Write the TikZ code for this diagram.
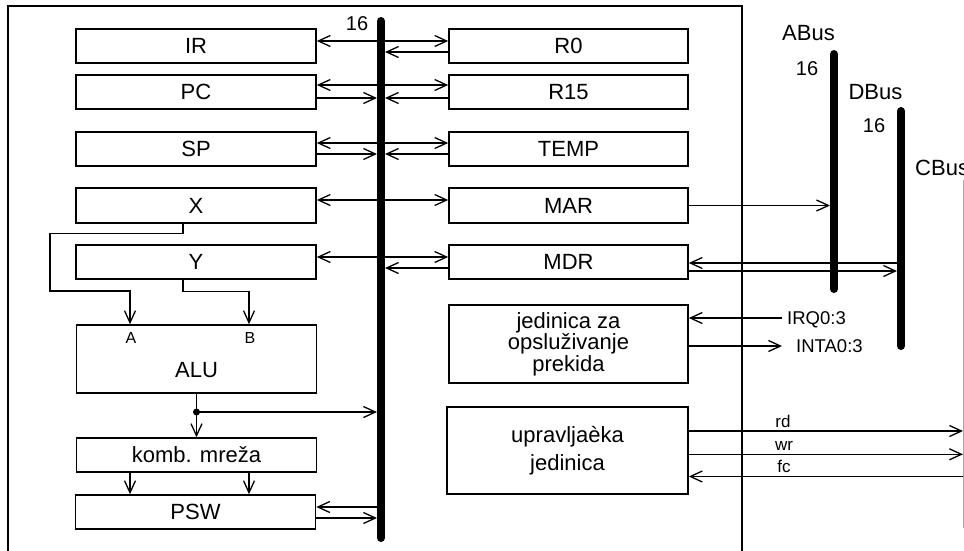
\documentclass[tikz,border=0pt]{standalone}
\usepackage{fontspec}
\setmainfont{Liberation Sans}
\usetikzlibrary{arrows.meta,calc}
\begin{document}
\begin{tikzpicture}[x=1pt,y=-1pt,
  >={Straight Barb[length=12pt,width=11pt]},
  box/.style={draw, line width=1.6pt, minimum width=240pt, minimum height=34pt, inner sep=0pt, font=\fontsize{22}{24}\selectfont},
  rbox/.style={box, minimum width=239pt},
  arr/.style={line width=1.3pt},
  bus/.style={line width=8pt, line cap=round},
  lbl/.style={inner sep=0pt, font=\fontsize{18.5}{20}\selectfont},
  num/.style={inner sep=0pt, font=\fontsize{20}{22}\selectfont},
  sig/.style={inner sep=0pt, font=\fontsize{17}{19}\selectfont},
  big/.style={inner sep=0pt, font=\fontsize{22}{24}\selectfont},
]
\useasboundingbox (0,0) rectangle (964,550);

% frame
\draw[line width=1.6pt] (8,553) -- (8,6) -- (742,6) -- (742,553);

% bus edge references
\coordinate (ibL) at (377,0);
\coordinate (ibR) at (385,0);
\coordinate (aL) at (830,0);
\coordinate (dL) at (897,0);
\coordinate (cb) at (963,0);

% buses
\draw[bus] (381,21) -- (381,538);
\draw[bus] (834,54) -- (834,289);
\draw[bus] (901,111) -- (901,346);
\draw[black!35, line width=1pt] (963,180) -- (963,528);

% bus labels
\node[num, anchor=base] (n16) at (357,30) {16};
\node[big, anchor=base] (abus) at (808.5,40) {ABus};
\node[num, anchor=base] (a16) at (807,75) {16};
\node[big, anchor=base] (dbus) at (875.5,99) {DBus};
\node[num, anchor=base] (d16) at (874,132) {16};
\node[big, anchor=base west] (cbus) at (915,175) {CBus};

% left boxes
\node[box] (IR) at (196,46) {IR};
\node[box] (PC) at (196,92) {PC};
\node[box] (SP) at (196,149) {SP};
\node[box, minimum height=35pt] (X) at (196,205.5) {X};
\node[box] (Y) at (196,262) {Y};
\node[box, minimum height=68pt] (ALU) at (196.5,359) {};
\node[big] (alut) at (196.5,370) {ALU};
\node[inner sep=0pt, font=\fontsize{16}{18}\selectfont] (la) at (131,338) {A};
\node[inner sep=0pt, font=\fontsize{16}{18}\selectfont] (lb) at (250,338) {B};
\node[box] (KOMB) at (196.5,455) {komb. mreža};
\node[box] (PSW) at (195.5,512) {PSW};

% right boxes
\node[rbox] (R0) at (568.5,46) {R0};
\node[rbox] (R15) at (568.5,92) {R15};
\node[rbox] (TEMP) at (568.5,149) {TEMP};
\node[rbox, minimum height=35pt] (MAR) at (568.5,205.5) {MAR};
\node[rbox] (MDR) at (568.5,262) {MDR};
\node[rbox, minimum height=78pt, align=center, font=\fontsize{22}{18}\selectfont] (JED) at (568.5,344) {jedinica za\\opsluživanje\\prekida};
\node[box, minimum width=241pt, minimum height=87pt, align=center, font=\fontsize{22}{28}\selectfont] (UPR) at (567.5,450.5) {upravljaèka\\jedinica};

% IR / R0
\draw[arr,<->] ([yshift=5pt]IR.east) -- ([yshift=5pt]R0.west);
\coordinate (c1) at ([yshift=-6pt]R0.west);
\draw[arr,->] (c1) -- (c1 -| ibR);

% PC / R15
\draw[arr,<->] ([yshift=7pt]PC.east) -- ([yshift=7pt]R15.west);
\coordinate (c2) at ([yshift=-6pt]PC.east);
\draw[arr,->] (c2) -- (c2 -| ibL);
\coordinate (c3) at ([yshift=-6pt]R15.west);
\draw[arr,->] (c3) -- (c3 -| ibR);

% SP / TEMP
\draw[arr,<->] ([yshift=6pt]SP.east) -- ([yshift=6pt]TEMP.west);
\coordinate (c4) at ([yshift=-5pt]SP.east);
\draw[arr,->] (c4) -- (c4 -| ibL);
\coordinate (c5) at ([yshift=-5pt]TEMP.west);
\draw[arr,->] (c5) -- (c5 -| ibR);

% X / MAR
\draw[arr,<->] ([yshift=5.5pt]X.east) -- ([yshift=5.5pt]MAR.west);
\draw[arr,->] (MAR.east) -- (MAR.east -| aL);

% Y / MDR
\draw[arr,<->] ([yshift=5pt]Y.east) -- ([yshift=5pt]MDR.west);
\coordinate (c6) at ([yshift=-6pt]MDR.west);
\draw[arr,->] (c6) -- (c6 -| ibR);
\coordinate (c7) at ([yshift=-1pt]MDR.east);
\draw[arr,<-] (c7) -- (c7 -| dL);
\coordinate (c7b) at ([yshift=-9pt]MDR.east);
\draw[arr,->] (c7b) -- (c7b -| dL);

% interrupt unit
\coordinate (c8) at (782,318);
\draw[arr,->] (c8) -- (c8 -| JED.east);
\node[lbl, anchor=base west] (irq) at (787,324.5) {IRQ0:3};
\coordinate (c9) at (782,346);
\draw[arr,->] (c9 -| JED.east) -- (c9);
\node[lbl, anchor=base west] (inta) at (796,352.5) {INTA0:3};

% control unit
\coordinate (c10) at ([yshift=19.5pt]UPR.east);
\draw[arr,->] (c10) -- (c10 -| cb);
\coordinate (c11) at ([yshift=-3.8pt]UPR.east);
\draw[arr,->] (c11) -- (c11 -| cb);
\coordinate (c12) at ([yshift=-26pt]UPR.east);
\draw[arr,<-] (c12) -- (c12 -| cb);
\node[sig, anchor=base] (rd) at (783,427) {rd};
\node[sig, anchor=base] (wr) at (784,450) {wr};
\node[sig, anchor=base] (fc) at (784,472) {fc};

% X, Y -> ALU
\coordinate (xo) at ([xshift=-13pt]X.south);
\coordinate (ain) at ([xshift=-66.5pt]ALU.north);
\draw[arr,->] (xo) -- ++(0,10) -| (50,291) -| (ain);
\coordinate (yo) at ([xshift=-13pt]Y.south);
\coordinate (bin) at ([xshift=52.5pt]ALU.north);
\draw[arr,->] (yo) -- ++(0,12) -| (bin);

% ALU -> komb, bus
\draw[arr,->] (ALU.south) -- (KOMB.north);
\coordinate (dot) at ($(ALU.south)!0.42!(KOMB.north)$);
\fill (dot) circle (3.5pt);
\draw[arr,->] (dot) -- (dot -| ibL);

% komb -> PSW
\coordinate (k1) at ([xshift=-66.5pt]KOMB.south);
\draw[arr,->] (k1) -- (k1 |- PSW.north);
\coordinate (k2) at ([xshift=52.5pt]KOMB.south);
\draw[arr,->] (k2) -- (k2 |- PSW.north);

% PSW <-> bus
\coordinate (p1) at ([yshift=5pt]PSW.east);
\draw[arr,<-] (p1) -- (p1 -| ibL);
\coordinate (p2) at ([yshift=-6pt]PSW.east);
\draw[arr,->] (p2) -- (p2 -| ibL);
\end{tikzpicture}
\end{document}
